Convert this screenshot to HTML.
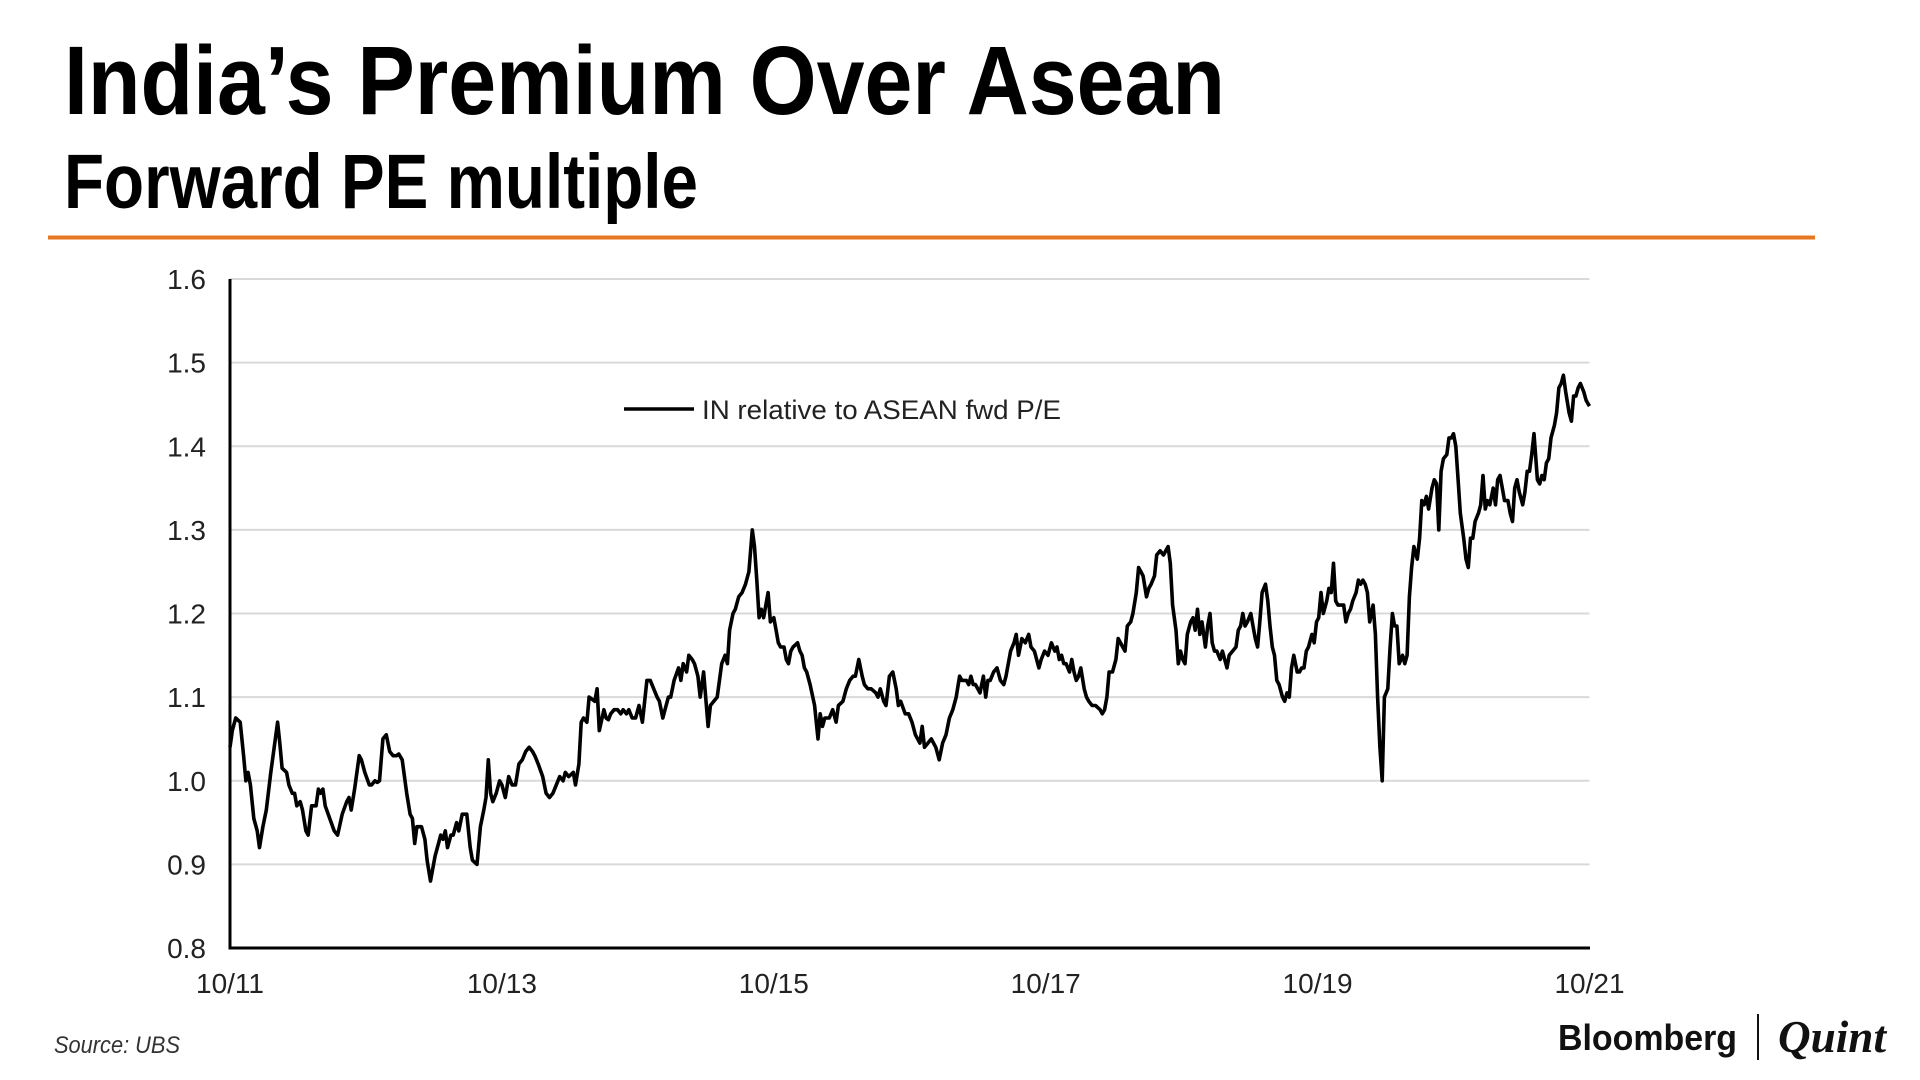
<!DOCTYPE html>
<html><head><meta charset="utf-8"><style>
html,body{margin:0;padding:0;background:#fff;}
svg{display:block;}
</style></head><body>
<svg id="chart" width="1920" height="1080" viewBox="0 0 1920 1080" xmlns="http://www.w3.org/2000/svg" font-family="'Liberation Sans', sans-serif">
<text x="64" y="114" font-size="97" font-weight="bold" textLength="1161" lengthAdjust="spacingAndGlyphs" fill="#000">India’s Premium Over Asean</text>
<text x="64" y="208" font-size="77" font-weight="bold" textLength="634" lengthAdjust="spacingAndGlyphs" fill="#000">Forward PE multiple</text>
<rect x="48" y="235.5" width="1767" height="4" fill="#e87722"/>
<g id="grid"></g>
<g id="yticks"></g>
<g id="xticks"></g>
<path id="series" fill="none" stroke="#000" stroke-width="3.6" stroke-linejoin="round"/>
<line x1="230" y1="279" x2="230" y2="949.5" stroke="#000" stroke-width="3"/>
<line x1="228.5" y1="948" x2="1590" y2="948" stroke="#000" stroke-width="3"/>
<g>
<line x1="624" y1="409" x2="694" y2="409" stroke="#000" stroke-width="3.6"/>
<text x="702" y="419" font-size="27" textLength="359" lengthAdjust="spacingAndGlyphs" fill="#222">IN relative to ASEAN fwd P/E</text>
</g>
<text x="54" y="1053" font-size="24" font-style="italic" textLength="126" lengthAdjust="spacingAndGlyphs" fill="#333">Source: UBS</text>
<text x="1558" y="1050" font-size="36" font-weight="bold" textLength="179" lengthAdjust="spacingAndGlyphs" fill="#111">Bloomberg</text>
<line x1="1758" y1="1014" x2="1758" y2="1060" stroke="#111" stroke-width="2"/>
<text x="1778" y="1052" font-size="46" font-weight="bold" font-style="italic" font-family="'Liberation Serif', serif" textLength="108" lengthAdjust="spacingAndGlyphs" fill="#111">Quint</text>
</svg>
<script>
const yTicks = [0.8,0.9,1.0,1.1,1.2,1.3,1.4,1.5,1.6];
const yTickLabels = ["0.8","0.9","1.0","1.1","1.2","1.3","1.4","1.5","1.6"];
const xTickMonths = [0,24,48,72,96,120];
const xTickLabels = ["10/11","10/13","10/15","10/17","10/19","10/21"];
// months since Oct 2011
const months = [0.0,0.2,0.5,0.9,1.2,1.4,1.6,1.8,2.1,2.4,2.6,2.9,3.2,3.6,3.9,4.2,4.4,4.6,5.0,5.2,5.5,5.7,5.9,6.2,6.4,6.7,6.9,7.2,7.6,7.8,8.0,8.2,8.4,8.8,9.2,9.5,9.9,10.3,10.5,10.7,11.0,11.4,11.6,11.9,12.3,12.5,12.8,13.0,13.2,13.5,13.8,14.1,14.4,14.7,14.9,15.2,15.6,15.9,16.1,16.3,16.5,16.9,17.2,17.4,17.7,18.1,18.4,18.6,18.8,19.0,19.2,19.5,19.7,20.0,20.2,20.5,20.9,21.2,21.4,21.8,22.1,22.4,22.6,22.8,23.0,23.2,23.5,23.8,24.0,24.3,24.6,24.9,25.2,25.5,25.8,26.1,26.4,26.7,26.9,27.2,27.6,27.9,28.2,28.5,28.8,29.1,29.4,29.6,29.9,30.3,30.5,30.8,31.0,31.2,31.5,31.7,32.0,32.2,32.4,32.6,33.0,33.2,33.4,33.6,33.9,34.2,34.5,34.7,35.0,35.2,35.5,35.8,36.1,36.4,36.8,37.1,37.4,37.7,37.9,38.2,38.4,38.7,38.9,39.2,39.6,39.8,40.0,40.3,40.5,40.8,41.0,41.3,41.5,41.8,42.2,42.4,42.7,43.0,43.4,43.7,43.9,44.1,44.4,44.6,44.9,45.2,45.5,45.8,46.1,46.3,46.5,46.7,46.9,47.1,47.5,47.7,48.0,48.2,48.4,48.6,48.9,49.1,49.3,49.5,49.7,50.1,50.3,50.5,50.7,50.9,51.2,51.6,51.9,52.1,52.3,52.5,52.9,53.2,53.5,53.7,54.1,54.4,54.7,55.0,55.2,55.5,55.8,56.0,56.3,56.6,57.0,57.2,57.4,57.7,57.9,58.2,58.5,58.8,59.0,59.2,59.6,59.9,60.2,60.5,60.9,61.1,61.3,61.6,61.9,62.3,62.6,62.9,63.2,63.5,63.8,64.1,64.4,64.6,65.0,65.2,65.4,65.6,65.8,66.2,66.5,66.7,66.9,67.1,67.4,67.7,68.0,68.3,68.5,68.9,69.2,69.4,69.6,69.9,70.2,70.5,70.7,71.0,71.4,71.6,71.9,72.2,72.5,72.8,73.0,73.2,73.4,73.6,73.8,74.1,74.3,74.5,74.7,74.9,75.1,75.4,75.6,75.8,76.1,76.4,76.8,77.0,77.2,77.4,77.6,77.9,78.2,78.4,78.6,78.8,79.0,79.2,79.5,79.7,80.0,80.2,80.4,80.6,80.9,81.1,81.3,81.6,81.8,82.1,82.4,82.6,82.8,83.0,83.2,83.5,83.7,83.9,84.1,84.3,84.5,84.8,85.0,85.2,85.4,85.6,85.8,86.1,86.3,86.5,86.7,86.9,87.1,87.4,87.6,87.8,88.0,88.2,88.5,88.8,89.0,89.2,89.4,89.6,89.8,90.1,90.3,90.5,90.7,90.9,91.1,91.4,91.6,91.8,92.0,92.2,92.4,92.6,92.9,93.1,93.3,93.5,93.7,93.9,94.2,94.4,94.6,94.8,95.0,95.2,95.5,95.7,95.9,96.1,96.3,96.5,96.8,97.0,97.2,97.4,97.6,97.8,98.1,98.3,98.5,98.7,98.9,99.1,99.4,99.6,99.8,100.0,100.2,100.4,100.6,100.9,101.1,101.3,101.5,101.7,101.9,102.2,102.4,102.6,102.8,103.0,103.2,103.5,103.7,103.9,104.1,104.3,104.5,104.8,105.0,105.2,105.4,105.6,105.8,106.1,106.3,106.5,106.7,106.9,107.1,107.4,107.6,107.8,108.0,108.2,108.4,108.6,108.9,109.1,109.3,109.5,109.7,109.9,110.2,110.4,110.6,110.8,111.0,111.2,111.5,111.7,111.9,112.1,112.3,112.5,112.8,113.0,113.2,113.4,113.6,113.8,114.1,114.3,114.5,114.7,114.9,115.1,115.4,115.6,115.8,116.0,116.2,116.4,116.6,116.9,117.1,117.3,117.5,117.7,117.9,118.2,118.4,118.6,118.8,119.0,119.2,119.5,119.7,119.9,120.0];
const ratios = [1.04,1.06,1.075,1.07,1.03,1.00,1.01,0.995,0.955,0.94,0.92,0.945,0.965,1.01,1.04,1.07,1.045,1.015,1.01,0.995,0.985,0.985,0.97,0.975,0.965,0.94,0.935,0.97,0.97,0.99,0.985,0.99,0.97,0.955,0.94,0.935,0.96,0.975,0.98,0.965,0.99,1.03,1.025,1.01,0.995,0.995,1.0,0.998,1.0,1.05,1.055,1.035,1.03,1.03,1.032,1.025,0.985,0.96,0.955,0.925,0.945,0.945,0.93,0.905,0.88,0.91,0.925,0.935,0.93,0.94,0.92,0.935,0.935,0.95,0.94,0.96,0.96,0.92,0.905,0.9,0.945,0.965,0.98,1.025,0.985,0.975,0.985,1.0,0.995,0.98,1.005,0.995,0.995,1.02,1.025,1.035,1.04,1.035,1.03,1.02,1.005,0.985,0.98,0.985,0.995,1.005,1.0,1.01,1.005,1.01,0.995,1.02,1.07,1.075,1.07,1.1,1.097,1.095,1.11,1.06,1.085,1.075,1.073,1.08,1.085,1.085,1.08,1.085,1.08,1.085,1.075,1.075,1.09,1.07,1.12,1.12,1.11,1.1,1.095,1.075,1.085,1.1,1.1,1.12,1.135,1.12,1.14,1.13,1.15,1.145,1.14,1.125,1.1,1.13,1.065,1.09,1.095,1.1,1.14,1.15,1.14,1.18,1.2,1.205,1.22,1.225,1.235,1.25,1.3,1.28,1.24,1.195,1.205,1.195,1.225,1.19,1.195,1.18,1.165,1.16,1.16,1.145,1.14,1.155,1.16,1.165,1.155,1.15,1.135,1.13,1.115,1.09,1.05,1.08,1.065,1.075,1.075,1.085,1.07,1.09,1.095,1.11,1.12,1.125,1.125,1.145,1.125,1.115,1.11,1.11,1.105,1.1,1.11,1.095,1.09,1.125,1.13,1.11,1.09,1.095,1.08,1.08,1.07,1.055,1.045,1.065,1.04,1.045,1.05,1.04,1.025,1.045,1.055,1.075,1.085,1.1,1.125,1.12,1.12,1.115,1.125,1.115,1.115,1.105,1.125,1.1,1.12,1.12,1.13,1.135,1.12,1.115,1.125,1.155,1.165,1.175,1.15,1.17,1.165,1.175,1.16,1.155,1.135,1.145,1.155,1.15,1.165,1.155,1.16,1.145,1.15,1.14,1.14,1.13,1.145,1.13,1.12,1.125,1.135,1.11,1.1,1.095,1.09,1.09,1.085,1.08,1.085,1.1,1.13,1.13,1.145,1.17,1.165,1.16,1.155,1.185,1.19,1.2,1.225,1.255,1.25,1.245,1.22,1.23,1.235,1.245,1.27,1.275,1.27,1.275,1.28,1.26,1.21,1.18,1.14,1.155,1.145,1.14,1.175,1.19,1.195,1.18,1.205,1.175,1.19,1.16,1.185,1.2,1.165,1.155,1.155,1.145,1.155,1.145,1.135,1.15,1.155,1.16,1.18,1.185,1.2,1.185,1.19,1.2,1.185,1.17,1.16,1.19,1.225,1.235,1.215,1.185,1.16,1.15,1.12,1.115,1.1,1.095,1.105,1.1,1.135,1.15,1.13,1.13,1.135,1.135,1.155,1.16,1.175,1.165,1.19,1.195,1.225,1.2,1.215,1.23,1.225,1.26,1.215,1.21,1.21,1.21,1.19,1.2,1.205,1.215,1.225,1.24,1.235,1.24,1.235,1.225,1.19,1.21,1.175,1.1,1.04,1.0,1.1,1.11,1.16,1.2,1.185,1.185,1.14,1.15,1.14,1.15,1.22,1.255,1.28,1.265,1.29,1.335,1.33,1.34,1.325,1.35,1.36,1.355,1.3,1.37,1.385,1.39,1.41,1.41,1.415,1.4,1.36,1.32,1.29,1.265,1.255,1.29,1.29,1.31,1.32,1.33,1.365,1.325,1.335,1.33,1.35,1.33,1.36,1.365,1.35,1.335,1.335,1.32,1.31,1.35,1.36,1.345,1.33,1.345,1.37,1.37,1.39,1.415,1.36,1.355,1.365,1.36,1.38,1.385,1.41,1.425,1.44,1.47,1.475,1.485,1.465,1.44,1.43,1.46,1.46,1.47,1.475,1.465,1.455,1.45,1.448];

const NS = "http://www.w3.org/2000/svg";
const X0 = 230, X1 = 1589.5, Y0 = 948, Y1 = 279;
function xScale(m){ return X0 + (m - 0) / (120 - 0) * (X1 - X0); }
function yScale(v){ return Y0 - (v - 0.8) / (1.6 - 0.8) * (Y0 - Y1); }

const grid = document.getElementById('grid');
const yt = document.getElementById('yticks');
yTicks.forEach((v, i) => {
  if (i > 0) {
    const l = document.createElementNS(NS, 'line');
    
    
    l.setAttribute('x1', X0); l.setAttribute('x2', X1);
    l.setAttribute('y1', yScale(v)); l.setAttribute('y2', yScale(v));
    l.setAttribute('stroke', '#d9d9d9'); l.setAttribute('stroke-width', '2');
    grid.appendChild(l);
  }
  const t = document.createElementNS(NS, 'text');
  
  
  t.setAttribute('x', 206); t.setAttribute('y', yScale(v) + 10);
  t.setAttribute('text-anchor', 'end'); t.setAttribute('font-size', '28'); t.setAttribute('fill', '#222');
  t.textContent = yTickLabels[i];
  yt.appendChild(t);
});
const xt = document.getElementById('xticks');
xTickMonths.forEach((m, i) => {
  const t = document.createElementNS(NS, 'text');
  
  
  t.setAttribute('x', xScale(m)); t.setAttribute('y', 993);
  t.setAttribute('text-anchor', 'middle'); t.setAttribute('font-size', '28'); t.setAttribute('fill', '#222');
  t.textContent = xTickLabels[i];
  xt.appendChild(t);
});
let d = '';
months.forEach((m, i) => { d += (i ? 'L' : 'M') + xScale(m).toFixed(1) + ',' + yScale(ratios[i]).toFixed(1); });
document.getElementById('series').setAttribute('d', d);
</script>
</body></html>
